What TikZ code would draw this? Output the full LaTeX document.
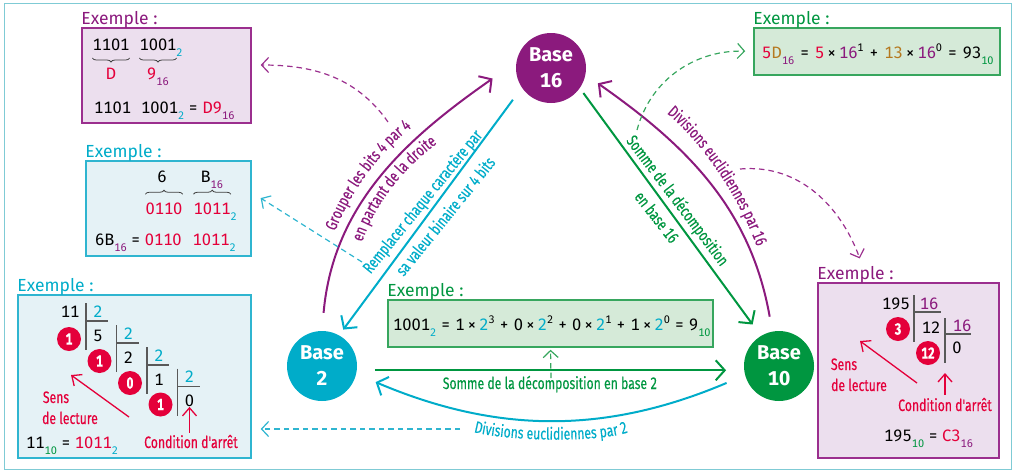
\documentclass[tikz,border=0pt]{standalone}
\usepackage{fontspec}
\usepackage{xcolor}
\setmainfont[Numbers=Monospaced]{Fira Sans}
\newfontfamily\condfont[FakeStretch=0.74, FakeBold=0.35, Numbers=Monospaced]{Fira Sans}
\usetikzlibrary{arrows.meta}
\usetikzlibrary{positioning, decorations.pathreplacing, decorations.text}
\definecolor{violet16}{HTML}{8B1A7D}
\definecolor{cyan2}{HTML}{00ACC9}
\definecolor{vert10}{HTML}{009640}
\definecolor{rouge}{HTML}{E4003A}
\definecolor{ocre}{HTML}{B5791F}
\definecolor{fondviolet}{HTML}{ECDFEE}
\definecolor{fondcyan}{HTML}{E5F2F6}
\definecolor{fondvert}{HTML}{D5EAD8}
\definecolor{traitviolet}{HTML}{9B2F8E}
\definecolor{traitcyan}{HTML}{2FB5D0}
\definecolor{traitvert}{HTML}{37A65E}
\definecolor{cadre}{HTML}{7FCBD5}
\newcommand{\indice}[2]{\textcolor{#1}{\raisebox{-0.7ex}{\fontsize{11}{10}\selectfont #2}}}
\newcommand{\exposant}[1]{\raisebox{0.75ex}{\fontsize{11}{10}\selectfont #1}}
\newcommand{\sdeux}{\indice{cyan2}{2}}
\newcommand{\sdix}{\indice{vert10}{10}}
\newcommand{\sseize}{\indice{violet16}{16}}
\newcommand{\rg}[1]{\textcolor{rouge}{#1}}
\newcommand{\oc}[1]{\textcolor{ocre}{#1}}
\newcommand{\vi}[1]{\textcolor{violet16}{#1}}
\newcommand{\cy}[1]{\textcolor{cyan2}{#1}}
\newcommand{\chiffres}{\fontsize{16.5}{18}\selectfont}
\newcommand{\courbe}{\condfont\fontsize{16.5}{18}\selectfont}
\newcommand{\fois}{\,×\,}
\tikzset{
    base/.style={circle, fill=#1, text=white, minimum size=70pt, inner sep=0pt, align=center,
                 font=\bfseries\fontsize{20}{26}\selectfont},
    boite/.style 2 args={draw=#1, fill=#2, line width=1.5pt, inner sep=0pt},
    titre/.style={anchor=base west, inner sep=0pt, yshift=3pt, text=#1, font=\fontsize{17.5}{18}\selectfont},
    calcul/.style={anchor=base, inner sep=0pt, font=\chiffres},
    calculg/.style={anchor=base west, inner sep=0pt, font=\chiffres},
    legende/.style={anchor=base, inner sep=0pt, text=rouge, font=\courbe},
    etiquette/.style={inner sep=0pt, text=#1, font=\courbe},
    reste/.style={circle, fill=rouge, text=white, minimum size=24pt, inner sep=0pt,
                  font=\condfont\bfseries\fontsize{16}{18}\selectfont},
    accolade/.style={draw=black!75, line width=0.8pt, decorate, decoration={brace, amplitude=4pt}},
    accoladeb/.style={draw=black!75, line width=0.8pt, decorate, decoration={brace, amplitude=4pt, mirror}},
    potence/.style={draw=black!65, line width=1.3pt},
    pointille/.style={line width=1.2pt, dash pattern=on 5.5pt off 4pt},
    texteCourbe/.style 2 args={decorate, decoration={text along path, text align=center, text color=#1, text={|\courbe|#2}}}
}

\begin{document}
\begin{tikzpicture}[x=1pt, y=-1pt]
\useasboundingbox (0,0) rectangle (1016,472);
\node[draw=cadre, line width=1.2pt, minimum width=1007pt, minimum height=466pt, inner sep=0pt] (fr) at (508,236.5) {};

\begin{scope}
    \node[base=violet16] (b16) at (551,68) {Base\\16};
    \node[base=cyan2] (b2) at (322,366) {Base\\2};
    \node[base=vert10] (b10) at (779,366) {Base\\10};
\end{scope}

\begin{scope}
    \node[boite={traitviolet}{fondviolet}, minimum width=169pt, minimum height=95pt] (ex1) at (166.5,75.5) {};
    \node[boite={traitcyan}{fondcyan}, minimum width=165pt, minimum height=95pt] (ex2) at (168.5,208.5) {};
    \node[boite={traitcyan}{fondcyan}, minimum width=233pt, minimum height=163pt] (ex3) at (134.5,376.5) {};
    \node[boite={traitvert}{fondvert}, minimum width=246pt, minimum height=47pt] (ex4) at (877,51.5) {};
    \node[boite={traitviolet}{fondviolet}, minimum width=181pt, minimum height=175pt] (ex5) at (908.5,370.5) {};
    \node[boite={traitvert}{fondvert}, minimum width=325pt, minimum height=47pt] (ex6) at (550.5,323.5) {};
    \node[titre=violet16] (t1) at (ex1.north west) {Exemple :};
    \node[titre=cyan2] (t2) at (ex2.north west) {Exemple :};
    \node[titre=cyan2] (t3) at (ex3.north west) {Exemple :};
    \node[titre=vert10] (t4) at (ex4.north west) {Exemple :};
    \node[titre=violet16] (t5) at (ex5.north west) {Exemple :};
    \node[titre=vert10] (t6) at (ex6.north west) {Exemple :};
\end{scope}

\begin{scope}[every edge/.style={draw=violet16, line width=2pt},
              >={Straight Barb[length=9pt, width=20pt]}]
    \path [->] (b2.90) edge [out=85, in=215, shorten <=18pt, shorten >=29pt] (b16.170);
    \path [->] (b10.101) edge [out=100, in=325, shorten <=15pt, shorten >=15pt] (b16.349);
\end{scope}

\begin{scope}[every edge/.style={draw=cyan2, line width=2pt},
              >={Straight Barb[length=9pt, width=20pt]}]
    \path [->] (b16.214) edge [shorten <=15pt, shorten >=7pt] (b2.61);
    \path [->] (b10.195) edge [out=203, in=337, shorten <=20pt, shorten >=21pt] (b2.347);
\end{scope}

\begin{scope}[every edge/.style={draw=vert10, line width=2pt},
              >={Straight Barb[length=9pt, width=20pt]}]
    \path [->] (b16.325) edge [shorten <=6pt, shorten >=14pt] (b10.121);
    \path [->] (b2.-7) edge [shorten <=18pt, shorten >=18pt] (b10.187);
\end{scope}

\coordinate (d1) at (388,122);
\coordinate (d2) at (362,262);
\coordinate (d3) at (460,429);
\coordinate (d4) at (637,130);
\coordinate (d5) at (740,169);
\coordinate (d6) at (551,378);

\begin{scope}[>={Straight Barb[length=7pt, width=15pt]}, pointille]
    \path [->] (d1) edge [draw=traitviolet, out=125, in=0, shorten >=9pt] ([yshift=10.5pt]ex1.east);
    \path [->] (d2) edge [draw=traitcyan, shorten >=10.5pt] ([yshift=16pt]ex2.east);
    \path [->] (d3) edge [draw=traitcyan, shorten >=9pt] (d3 -| ex3.east);
    \path [->] (d4) edge [draw=traitvert, out=75, in=178, shorten >=8pt] (ex4.west);
    \path [->] (d5) edge [draw=traitviolet, out=5, in=110, shorten >=8pt] ([xshift=7pt]t5.north);
    \path [->] (d6) edge [draw=traitvert, shorten >=2pt] (ex6.south);
\end{scope}

\path [texteCourbe={violet16}{Grouper les bits 4 par 4}] (334,235) .. controls (348,195) and (380,150) .. (415,125);
\path [texteCourbe={violet16}{en partant de la droite}] (362,243) .. controls (372,210) and (400,170) .. (438,143);
\path [texteCourbe={violet16}{Divisions euclidiennes par 16}] (664,111) .. controls (698,138) and (738,193) .. (758,250);
\path [texteCourbe={cyan2}{Divisions euclidiennes par 2}] (470,431) .. controls (500,441) and (600,444) .. (632,431);

\node[etiquette=cyan2, rotate=51] (l1) at (423,202) {Remplacer chaque caractère par};
\node[etiquette=cyan2, rotate=51] (l2) at (445,216) {sa valeur binaire sur 4 bits};
\node[etiquette=vert10, rotate=-53] (l3) at (677,201) {Somme de la décomposition};
\node[etiquette=vert10, rotate=-52] (l4) at (657,217) {en base 16};
\node[legende, text=vert10] (l5) at (550,389) {Somme de la décomposition en base 2};

% base 2 vers base 16
\begin{scope}
    \node[calcul] (a1) at (111,50) {1101};
    \node[calcul] (a2) at (158,50) {1001\rlap{\sdeux}};
    \node[calcul] (a3) at (111,79) {\rg{D}};
    \node[calculg] (a4) at (147,79) {\rg{9}\sseize};
    \node[calculg] (a5) at (94,113) {1101\hspace{10pt}1001\sdeux{} = \rg{D9}\sseize};
    \draw[accoladeb] ([yshift=-8pt]a1.base west) -- ([yshift=-8pt]a1.base east);
    \draw[accoladeb] ([yshift=-8pt]a2.base west) -- ([yshift=-8pt]a2.base east);
\end{scope}

% base 16 vers base 2
\begin{scope}
    \node[calcul] (c1) at (162,182) {6};
    \node[calculg] (c2) at (200.5,182) {B\sseize};
    \node[calcul] (c3) at (164,214) {\rg{0110}};
    \node[calculg] (c4) at (193.5,214) {\rg{1011}\rlap{\sdeux}};
    \node[calculg] (c5) at (95,245) {6B\sseize{} = \rg{0110\hspace{11pt}1011}\sdeux};
    \draw[accolade] ([yshift=8pt]c3.north west) -- ([yshift=8pt]c3.north east);
    \draw[accolade] ([yshift=8pt]c4.north west) -- ([yshift=8pt]c4.north east);
\end{scope}

% divisions par 2
\begin{scope}[>={Straight Barb[length=8pt, width=14pt]}]
    \node[calcul] (e0) at (70,317) {11};
    \foreach \x/\y/\q/\r/\n in {86/303/5/1/1, 116.5/325/2/1/2, 147/347/1/0/3, 177.5/368.5/0/1/4} {
        \draw[potence] (\x,\y) -- (\x,\y+47);
        \draw[potence] (\x,\y+18) -- (\x+22,\y+18);
        \node[calcul] (d\n) at (\x+12,\y+14) {\cy{2}};
        \node[calcul] (q\n) at (\x+12,\y+38) {\q};
        \node[reste] (r\n) at (\x-17,\y+36) {\r};
    }
    \node[legende] (e1) at (56,403) {Sens};
    \node[legende] (e2) at (70,424) {de lecture};
    \node[legende] (e3) at (191,448) {Condition d'arrêt};
    \node[calculg] (e4) at (26,448) {11\sdix{} = \rg{1011}\sdeux};
    \coordinate (e5) at (129,417);
    \coordinate (e6) at (71,375);
    \path [->] (e5) edge [draw=rouge, line width=1.3pt] (e6);
    \path [->] (e3.north -| q4) edge [draw=rouge, line width=1.3pt, shorten <=2pt] (q4.south);
\end{scope}

% base 16 vers base 10
\begin{scope}
    \node[calculg] (f1) at (762,58) {\spaceskip=5.7pt \rg{5}\oc{D}\sseize{} = \rg{5}\fois\vi{16}\exposant{1} + \oc{13}\fois\vi{16}\exposant{0} = 93\sdix};
\end{scope}

% base 2 vers base 10
\begin{scope}
    \node[calculg] (g1) at (393,330) {\spaceskip=4.9pt 1001\sdeux{} = 1\fois\cy{2}\exposant{3} + 0\fois\cy{2}\exposant{2} + 0\fois\cy{2}\exposant{1} + 1\fois\cy{2}\exposant{0} = 9\sdix};
\end{scope}

% divisions par 16
\begin{scope}[>={Straight Barb[length=8pt, width=14pt]}]
    \node[calcul] (h1) at (896,309) {195};
    \draw[potence] (914,295) -- (914,342);
    \draw[potence] (914,312) -- (941,312);
    \draw[potence] (945,318) -- (945,363);
    \draw[potence] (945,334) -- (971,334);
    \node[calcul] (h2) at (929,309) {\vi{16}};
    \node[reste] (h3) at (898,329) {3};
    \node[calcul] (h4) at (931,333) {12};
    \node[calcul] (h5) at (962,331) {\vi{16}};
    \node[calcul] (h6) at (957,353) {0};
    \node[reste] (h7) at (928,353) {12};
    \node[legende] (h8) at (844,370) {Sens};
    \node[legende] (h9) at (859,391) {de lecture};
    \node[legende] (h10) at (945,411) {Condition d'arrêt};
    \node[calculg] (h11) at (884,441) {195\sdix{} = \rg{C3}\sseize};
    \coordinate (h12) at (917,383);
    \coordinate (h13) at (860,341);
    \coordinate (h14) at (945,373);
    \path [->] (h12) edge [draw=rouge, line width=1.3pt] (h13);
    \path [->] (h10.north) edge [draw=rouge, line width=1.3pt, shorten <=3pt] (h14);
\end{scope}

\end{tikzpicture}
\end{document}
